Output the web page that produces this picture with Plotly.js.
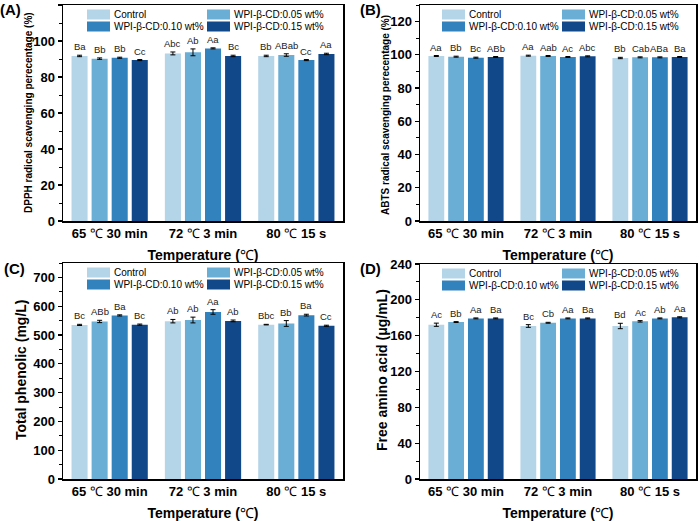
<!DOCTYPE html>
<html>
<head>
<meta charset="utf-8">
<script src="https://cdn.plot.ly/plotly-3.0.1.min.js"></script>
<style>html,body{margin:0;padding:0;background:#fff}</style>
</head>
<body>
<div id="chart" style="width:700px;height:521px"></div>
<script>
// Heat-treatment groups on the x axis
const groups = ['65 ℃ 30 min', '72 ℃ 3 min', '80 ℃ 15 s'];
const seriesNames = ['Control', 'WPI-β-CD:0.05 wt%', 'WPI-β-CD:0.10 wt%', 'WPI-β-CD:0.15 wt%'];
const seriesColors = ['#b4d4e8', '#6aaed6', '#3282be', '#10488a'];

// (A) DPPH radical scavenging (%), one row per series
const dpphValues = [[91.7, 93.1, 91.7], [90.2, 93.7, 92.2], [90.7, 95.9, 89.4], [89.4, 91.7, 92.8]];
const dpphErrors = [[0.4, 0.8, 0.4], [0.4, 1.9, 0.7], [0.3, 0.3, 0.3], [0.3, 0.4, 0.4]];
const dpphLetters = [['Ba', 'Abc', 'Bb'], ['Bb', 'Ab', 'ABab'], ['Bb', 'Aa', 'Cc'], ['Cc', 'Bc', 'Aa']];

// (B) ABTS radical scavenging (%)
const abtsValues = [[99.3, 99.5, 98.1], [98.9, 99.3, 98.5], [98.3, 98.7, 98.5], [98.7, 99.1, 98.7]];
const abtsErrors = [[0.3, 0.3, 0.4], [0.3, 0.3, 0.3], [0.3, 0.3, 0.3], [0.3, 0.3, 0.3]];
const abtsLetters = [['Aa', 'Aa', 'Bb'], ['Bb', 'Aab', 'Cab'], ['Bc', 'Ac', 'ABa'], ['ABb', 'Abc', 'Ba']];

// (C) Total phenolic (mg/L)
const phenolValues = [[535, 548, 536], [547, 552, 540], [568, 580, 569], [536, 549, 532]];
const phenolErrors = [[2, 6, 1], [4, 10, 10], [2, 8, 3], [2, 3, 2]];
const phenolLetters = [['Bc', 'Ab', 'Bbc'], ['ABb', 'Ab', 'Bb'], ['Ba', 'Aa', 'Ba'], ['Bc', 'Ab', 'Cc']];

// (D) Free amino acid (μg/mL)
const aminoValues = [[172.2, 170.8, 170.8], [175.2, 174.4, 176.0], [179.3, 179.3, 179.3], [179.3, 179.3, 180.5]];
const aminoErrors = [[1.8, 1.5, 3.0], [0.5, 0.5, 0.8], [0.5, 0.5, 0.5], [0.5, 0.5, 0.6]];
const aminoLetters = [['Ac', 'Bc', 'Bd'], ['Bb', 'Cb', 'Ac'], ['Aa', 'Aa', 'Ab'], ['Ba', 'Ba', 'Aa']];

const W = 700, H = 521;
const FONT = '"Liberation Sans", Arial, Helvetica, sans-serif';
const BARGAP = 0.14;

// the degree-Celsius sign is set in a regular weight inside bold labels
const thinC = s => s.replace('℃', '<span style="font-weight:normal">℃</span>');

const panels = [
  { tag: '(A)', values: dpphValues, errors: dpphErrors, letters: dpphLetters,
    range: [0, 120], dtick: 20, minor: 10,
    ytitle: 'DPPH radical scavenging perecentage (%)', ytitleSize: 10, ytitlePos: [28, 113],
    box: { l: 63, r: 343, t: 5, b: 221 }, tagPos: [10, 9], legendCols: [24, 144] },
  { tag: '(B)', values: abtsValues, errors: abtsErrors, letters: abtsLetters,
    range: [0, 130], dtick: 20, minor: 10,
    ytitle: 'ABTS radical scavenging perecentage (%)', ytitleSize: 10, ytitlePos: [385, 115],
    box: { l: 420, r: 696, t: 5, b: 221 }, tagPos: [370, 10], legendCols: [22, 142] },
  { tag: '(C)', values: phenolValues, errors: phenolErrors, letters: phenolLetters,
    range: [0, 750], dtick: 100, minor: 50,
    ytitle: 'Total phenolic (mg/L)', ytitleSize: 14, ytitlePos: [21, 370],
    box: { l: 63, r: 343, t: 263, b: 479 }, tagPos: [14, 268], legendCols: [24, 144] },
  { tag: '(D)', values: aminoValues, errors: aminoErrors, letters: aminoLetters,
    range: [0, 240], dtick: 40, minor: 20,
    ytitle: 'Free amino acid (μg/mL)', ytitleSize: 14, ytitlePos: [382, 370],
    box: { l: 420, r: 696, t: 264, b: 479 }, tagPos: [370, 268], legendCols: [22, 142] }
];

const px = x => x / W;
const py = y => 1 - y / H;

const traces = [];
const annotations = [];
const shapes = [];
const layout = {
  width: W, height: H,
  margin: { l: 0, r: 0, t: 0, b: 0, pad: 0 },
  paper_bgcolor: '#fff', plot_bgcolor: '#fff',
  barmode: 'group', bargap: BARGAP, bargroupgap: 0.2,
  showlegend: false,
  font: { family: FONT, color: '#000' }
};

panels.forEach((p, k) => {
  const n = k === 0 ? '' : String(k + 1);
  const xa = 'x' + n, ya = 'y' + n;
  const slot = (1 - BARGAP) / seriesNames.length;

  layout['xaxis' + n] = {
    domain: [px(p.box.l), px(p.box.r)], anchor: ya, type: 'category',
    tickmode: 'array', tickvals: groups, ticktext: groups.map(thinC),
    showline: true, mirror: true, linecolor: '#000', linewidth: 1.5,
    ticks: '', showgrid: false, zeroline: false,
    tickfont: { family: FONT, size: 13, weight: 'bold', color: '#000' },
    title: { text: thinC('Temperature (℃)'), standoff: 10,
             font: { family: FONT, size: 14, weight: 'bold', color: '#000' } }
  };
  layout['yaxis' + n] = {
    domain: [py(p.box.b), py(p.box.t)], anchor: xa, range: p.range,
    dtick: p.dtick, tick0: 0,
    showline: true, mirror: true, linecolor: '#000', linewidth: 1.5,
    ticks: 'outside', ticklen: 4, tickwidth: 1.2, tickcolor: '#000',
    minor: { ticks: 'outside', ticklen: 2.5, tickwidth: 1, tickcolor: '#000', dtick: p.minor, tick0: 0 },
    showgrid: false, zeroline: false,
    tickfont: { family: FONT, size: 13, weight: 'bold', color: '#000' }
  };

  // vertical axis title
  annotations.push({
    xref: 'paper', yref: 'paper', x: px(p.ytitlePos[0]), y: py(p.ytitlePos[1]),
    xanchor: 'center', yanchor: 'middle', textangle: -90, showarrow: false,
    text: '<b>' + p.ytitle + '</b>',
    font: { family: FONT, size: p.ytitleSize, color: '#000' }
  });

  seriesNames.forEach((name, i) => {
    traces.push({
      type: 'bar', name: name, x: groups, y: p.values[i],
      xaxis: xa, yaxis: ya,
      marker: { color: seriesColors[i], line: { width: 0 } },
      error_y: { type: 'data', array: p.errors[i], visible: true,
                 color: '#000', thickness: 1, width: 2.5 },
      hoverinfo: 'skip'
    });
    // significance letters above each bar
    p.values[i].forEach((v, g) => {
      annotations.push({
        xref: xa, yref: ya, x: g + (i - 1.5) * slot, y: v + p.errors[i][g],
        text: p.letters[i][g], showarrow: false, yanchor: 'bottom', yshift: 1,
        font: { family: FONT, size: 9.5, color: '#222' }
      });
    });
    // legend swatch and label
    const col = i % 2, row = Math.floor(i / 2);
    const sx = p.box.l + p.legendCols[col];
    const cy = p.box.t + 9.5 + row * 12;
    shapes.push({
      type: 'rect', xref: 'paper', yref: 'paper',
      x0: px(sx), x1: px(sx + 23), y0: py(cy - 5), y1: py(cy + 5),
      fillcolor: seriesColors[i], line: { width: 0 }
    });
    annotations.push({
      xref: 'paper', yref: 'paper', x: px(sx + 25), y: py(cy),
      xanchor: 'left', yanchor: 'middle', showarrow: false, text: name,
      font: { family: FONT, size: 10, color: '#000' }
    });
  });

  annotations.push({
    xref: 'paper', yref: 'paper', x: px(p.tagPos[0]), y: py(p.tagPos[1]),
    xanchor: 'center', yanchor: 'middle', showarrow: false, text: '<b>' + p.tag + '</b>',
    font: { family: FONT, size: 15, color: '#000' }
  });
});

layout.annotations = annotations;
layout.shapes = shapes;

Plotly.newPlot('chart', traces, layout, { staticPlot: true, displayModeBar: false });
</script>
</body>
</html>
